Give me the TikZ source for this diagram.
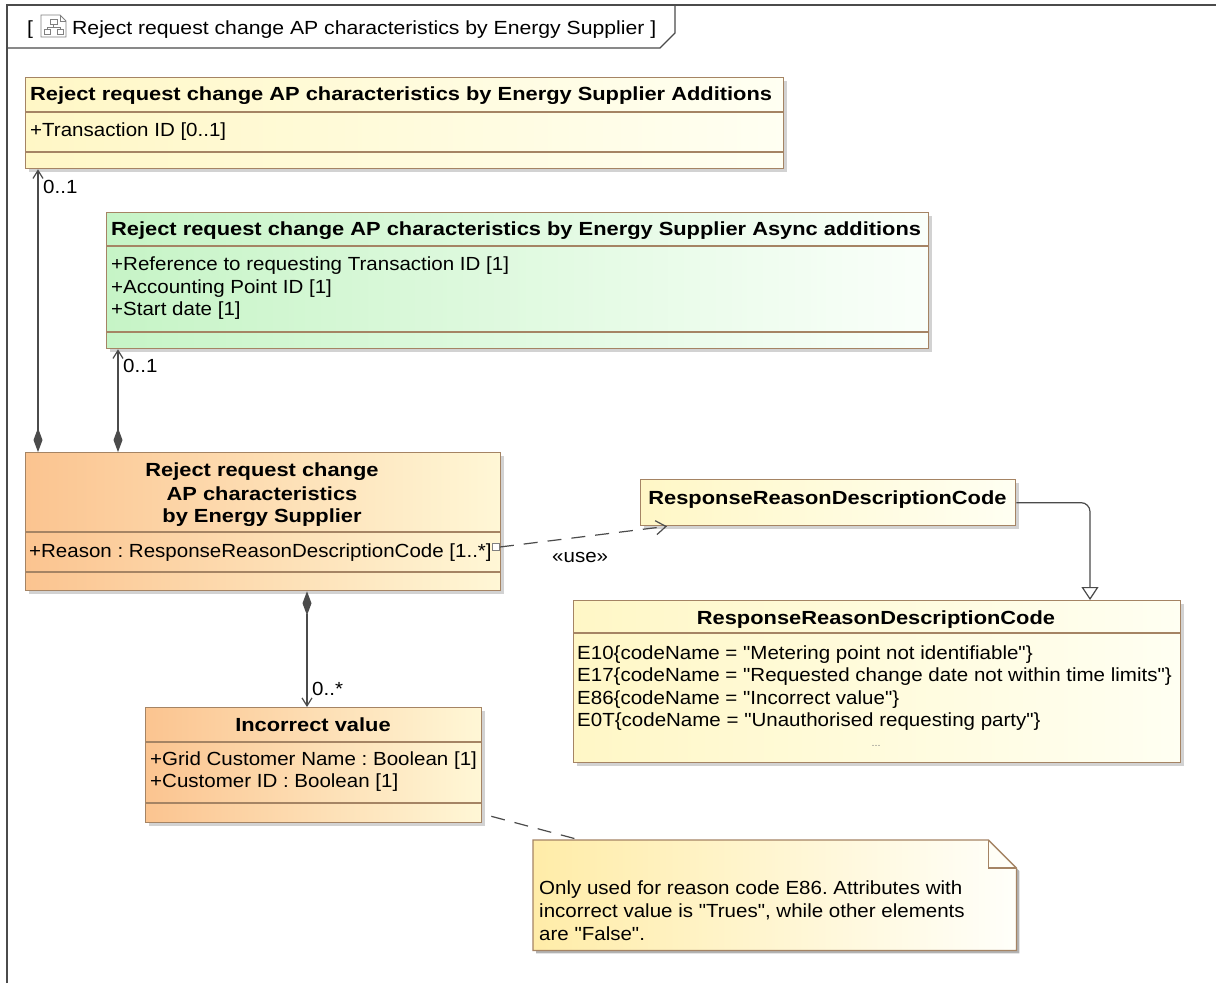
\documentclass[tikz,border=0pt]{standalone}
\usepackage{fontspec}
\setmainfont{Liberation Sans}[Ligatures=TeXOff]
\newfontfamily\regf{Liberation Sans}[FakeStretch=1.08, Ligatures=TeXOff]
\newfontfamily\tabf{Liberation Sans}[FakeStretch=1.115, Ligatures=TeXOff]
\newfontfamily\boldf{Liberation Sans}[FakeStretch=1.15, Ligatures=TeXOff]
\usetikzlibrary{arrows.meta,shadows,calc}
\definecolor{bordr}{RGB}{165,132,100}
\definecolor{linec}{RGB}{75,75,75}
\definecolor{yelL}{RGB}{255,247,198}
\definecolor{yelR}{RGB}{255,255,242}
\definecolor{grnL}{RGB}{198,244,198}
\definecolor{grnR}{RGB}{250,255,250}
\definecolor{orgL}{RGB}{251,196,144}
\definecolor{orgR}{RGB}{255,247,214}
\definecolor{noteL}{RGB}{255,236,168}
\definecolor{noteR}{RGB}{255,255,250}
\tikzset{
  cls/.style={draw=bordr, line width=1.3pt, rectangle, inner sep=0pt, anchor=north west,
    drop shadow={shadow xshift=3pt, shadow yshift=-3pt, opacity=.35}},
  sepl/.style={draw=bordr, line width=1.3pt},
  txt/.style={inner sep=0pt, font=\regf\fontsize{19}{23}\selectfont},
  tabtxt/.style={inner sep=0pt, font=\tabf\fontsize{19}{23}\selectfont},
  btxt/.style={inner sep=0pt, font=\boldf\fontsize{19}{23}\selectfont\bfseries},
  conn/.style={draw=linec, line width=1.2pt},
  comp/.style={conn, {Diamond[length=24pt,width=9pt]}-{Straight Barb[length=8pt,width=10pt]}},
  dep/.style={conn, dash pattern=on 14pt off 10pt, -{Straight Barb[length=10pt,width=14pt]}},
  gen/.style={conn, rounded corners=9pt, -{Triangle[open,length=13pt,width=17pt,fill=white]}},
  notel/.style={conn, dash pattern=on 14pt off 10pt},
  framel/.style={draw=linec, line width=1.2pt}
}
\frenchspacing
\begin{document}
\begin{tikzpicture}[x=1pt,y=-1pt]
\useasboundingbox (0,0) rectangle (1216,983);
\fill[white] (0,0) rectangle (1216,983);

% frame
\draw[framel] (7,983) -- (7,5) -- (1216,5);
\draw[framel] (7,48) -- (660,48) -- (675,33) -- (675,5);
\node[tabtxt, anchor=base west] (ftitle) at (27,34) {[};
% diagram icon
\begin{scope}[draw=gray, line width=0.9pt]
  \draw[fill=white] (41,15) -- (60,15) -- (66,21) -- (66,37) -- (41,37) -- cycle;
  \draw (60,15) -- (60,21) -- (66,21);
  \draw[fill=white] (50,19) rectangle (57,24);
  \draw (53.5,24) -- (53.5,27) (47,27) -- (60,27) (47,27) -- (47,29) (60,27) -- (60,29);
  \draw[fill=white] (44,29) rectangle (50,34);
  \draw[fill=white] (57,29) rectangle (63,34);
\end{scope}
\node[tabtxt, anchor=base west] (ftext) at (72,34) {Reject request change AP characteristics by Energy Supplier ]};

% Box A
\node[cls, left color=yelL, right color=yelR, minimum width=758pt, minimum height=91pt] (A) at (25,77) {};
\draw[sepl] (25,112) -- (783,112);
\draw[sepl] (25,152) -- (783,152);
\node[btxt, anchor=base west] (At) at (30,100) {Reject request change AP characteristics by Energy Supplier Additions};
\node[txt, anchor=base west] (Aa) at (30,136) {+Transaction ID [0..1]};

% Box B
\node[cls, left color=grnL, right color=grnR, minimum width=822pt, minimum height=136pt] (B) at (106,212) {};
\draw[sepl] (106,246) -- (928,246);
\draw[sepl] (106,332) -- (928,332);
\node[btxt, anchor=base west] (Bt) at (111,235) {Reject request change AP characteristics by Energy Supplier Async additions};
\node[txt, anchor=base west] (Ba1) at (111,270) {+Reference to requesting Transaction ID [1]};
\node[txt, anchor=base west] (Ba2) at (111,293) {+Accounting Point ID [1]};
\node[txt, anchor=base west] (Ba3) at (111,315) {+Start date [1]};

% Box C
\node[cls, left color=orgL, right color=orgR, minimum width=475pt, minimum height=138pt] (C) at (25,452) {};
\draw[sepl] (25,532) -- (500,532);
\draw[sepl] (25,572) -- (500,572);
\node[btxt, anchor=base] (Ct1) at (262,476) {Reject request change};
\node[btxt, anchor=base] (Ct2) at (262,500) {AP characteristics};
\node[btxt, anchor=base] (Ct3) at (262,522) {by Energy Supplier};
\node[txt, anchor=base west] (Ca) at (29,557) {+Reason : ResponseReasonDescriptionCode [1..*]};
\node[draw=gray, fill=white, line width=0.8pt, inner sep=0pt, minimum size=7pt] (P) at (496,547) {};

% small RRDC
\node[cls, left color=yelL, right color=yelR, minimum width=375pt, minimum height=46pt] (R1) at (640,479) {};
\node[btxt, anchor=base] (R1t) at (827.5,504) {ResponseReasonDescriptionCode};

% big RRDC
\node[cls, left color=yelL, right color=yelR, minimum width=607pt, minimum height=162pt] (R2) at (573,600) {};
\draw[sepl] (573,633) -- (1180,633);
\node[btxt, anchor=base] (R2t) at (876,624) {ResponseReasonDescriptionCode};
\node[txt, anchor=base west] (R2a) at (577,659) {E10\{codeName = "Metering point not identifiable"\}};
\node[txt, anchor=base west] (R2b) at (577,681) {E17\{codeName = "Requested change date not within time limits"\}};
\node[txt, anchor=base west] (R2c) at (577,704) {E86\{codeName = "Incorrect value"\}};
\node[txt, anchor=base west] (R2d) at (577,726) {E0T\{codeName = "Unauthorised requesting party"\}};
\node[inner sep=0pt, font=\regf\fontsize{10}{10}\selectfont, text=gray, anchor=base] (R2e) at (876,746) {...};

% Incorrect value
\node[cls, left color=orgL, right color=orgR, minimum width=336pt, minimum height=115pt] (IV) at (145,707) {};
\draw[sepl] (145,742) -- (481,742);
\draw[sepl] (145,803) -- (481,803);
\node[btxt, anchor=base] (IVt) at (313,731) {Incorrect value};
\node[txt, anchor=base west] (IVa) at (150,765) {+Grid Customer Name : Boolean [1]};
\node[txt, anchor=base west] (IVb) at (150,787) {+Customer ID : Boolean [1]};

% Note
\node[inner sep=0pt, minimum width=483pt, minimum height=110pt, anchor=north west] (N) at (533,840) {};
\fill[black, opacity=.3] ($(N.north west)+(3,3)$) -- ($(N.north east)+(-25,3)$) -- ($(N.north east)+(3,31)$) -- ($(N.south east)+(3,3)$) -- ($(N.south west)+(3,3)$) -- cycle;
\path[draw=bordr, line width=1.3pt, left color=noteL, right color=noteR] (N.north west) -- ($(N.north east)+(-28,0)$) -- ($(N.north east)+(0,28)$) -- (N.south east) -- (N.south west) -- cycle;
\draw[draw=bordr, line width=1.1pt] ($(N.north east)+(-28,0)$) -- ($(N.north east)+(-28,28)$) -- ($(N.north east)+(0,28)$);
\node[txt, anchor=base west] (Nt1) at (539,894) {Only used for reason code E86. Attributes with};
\node[txt, anchor=base west] (Nt2) at (539,917) {incorrect value is "Trues", while other elements};
\node[txt, anchor=base west] (Nt3) at (539,940) {are "False".};

% connectors
\coordinate (cA) at ($(C.north west)+(13,0)$);
\coordinate (cB) at ($(C.north west)+(93,0)$);
\coordinate (cI) at ($(C.south west)+(282,0)$);
\draw[comp] (cA) -- (cA |- A.south);
\draw[comp] (cB) -- (cB |- B.south);
\draw[comp] (cI) -- (cI |- IV.north);
\node[txt, anchor=base west] (mA) at (43,193) {0..1};
\node[txt, anchor=base west] (mB) at (123,372) {0..1};
\node[txt, anchor=base west] (mI) at (312,695) {0..*};

\coordinate (r1in) at ($(R1.south west)+(27,0)$);
\draw[dep] (P.east) -- (r1in);
\node[txt, anchor=base west] (use) at (552,562) {«use»};

\coordinate (r2in) at ($(R2.north west)+(517,0)$);
\draw[gen] (R1.east) -| (r2in);

\coordinate (ivout) at ($(IV.south east)+(9,-7)$);
\coordinate (nin) at ($(N.north west)+(47,0)$);
\draw[notel] (ivout) -- (nin);
\end{tikzpicture}
\end{document}
